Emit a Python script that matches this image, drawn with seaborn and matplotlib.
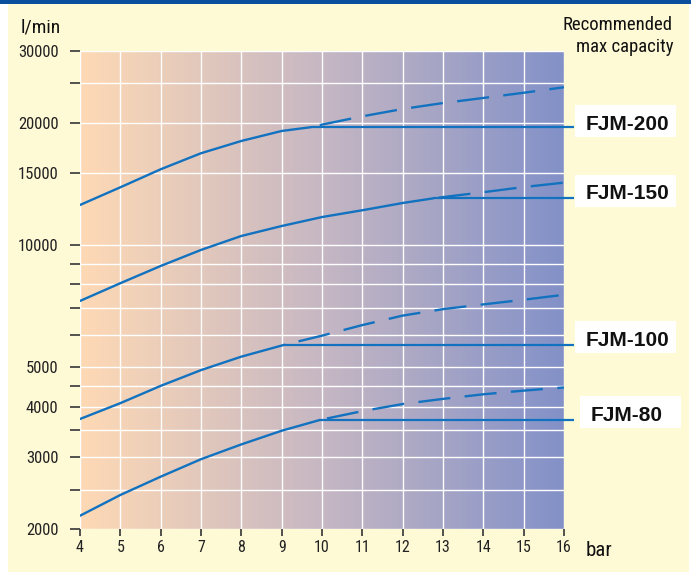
import numpy as np
import matplotlib
matplotlib.use("Agg")
import matplotlib.pyplot as plt
from matplotlib import font_manager
from matplotlib.patches import Rectangle
from matplotlib.colors import LinearSegmentedColormap
from matplotlib.ticker import NullLocator, FixedLocator, FixedFormatter
import seaborn as sns

# ---------------- data ----------------
models = ["FJM-200", "FJM-150", "FJM-100", "FJM-80"]

fjm200_solid_bar = [4, 5, 6, 7, 8, 9, 9.75]
fjm200_solid_lpm = [12540, 13860, 15350, 16810, 18020, 19070, 19500]
fjm200_dash_bar = [9.75, 10, 11, 12, 13, 14, 15, 16]
fjm200_dash_lpm = [19500, 19770, 20720, 21600, 22340, 22990, 23680, 24430]

fjm150_solid_bar = [4, 5, 6, 7, 8, 9, 10, 11, 12, 12.76]
fjm150_solid_lpm = [7280, 8050, 8875, 9720, 10520, 11130, 11710, 12170, 12680, 13020]
fjm150_dash_bar = [12.76, 13, 14, 15, 16]
fjm150_dash_lpm = [13020, 13110, 13480, 13880, 14230]

fjm100_solid_bar = [4, 5, 6, 7, 8, 9.07]
fjm100_solid_lpm = [3730, 4080, 4500, 4920, 5310, 5680]
fjm100_dash_bar = [9.07, 10, 11, 12, 13, 14, 15, 16]
fjm100_dash_lpm = [5680, 5980, 6350, 6700, 6950, 7140, 7330, 7540]

fjm80_solid_bar = [4, 5, 6, 7, 8, 9, 9.95]
fjm80_solid_lpm = [2156, 2425, 2690, 2970, 3230, 3490, 3710]
fjm80_dash_bar = [9.95, 11, 12, 13, 14, 15, 16]
fjm80_dash_lpm = [3710, 3900, 4060, 4180, 4290, 4380, 4460]

max_capacity_lpm = [19500, 13020, 5680, 3710]
max_capacity_bar = [9.75, 12.76, 9.07, 9.95]

x_ticks = list(range(4, 17))
y_ticks = [2000, 2500, 3000, 3500, 4000, 4500, 5000, 6000, 7000, 8000, 9000,
           10000, 15000, 20000, 25000, 30000]
y_labels = ["2000", "", "3000", "", "4000", "", "5000", "", "", "", "",
            "10000", "15000", "20000", "", "30000"]

# ---------------- style / layout ----------------
W, H = 691, 572
BLUE = "#1272bf"
BG = "#fffad6"
TOPBAR = "#0a4f9e"
LW = 1.7
DASH = (13.6, 6.1)
dash_offsets = [16.3, 17.5, 13.6, 16.7]
LINE_END_BAR = 16.24
label_boxes = [(575, 105, 676, 137), (575, 175, 676, 207),
               (575, 321, 676, 353), (580, 396, 681, 428)]
label_baselines = [130, 199, 345.7, 420.7]

# pick a condensed sans if one is installed
_fonts = font_manager.fontManager.ttflist
_names = {f.name for f in _fonts}
NARROW_FAMILY = None
NARROW_STRETCH = "normal"
for cand in ["Liberation Sans Narrow", "Roboto Condensed", "Open Sans Condensed",
             "Noto Sans Condensed", "DejaVu Sans Condensed", "Arial Narrow"]:
    if cand in _names:
        NARROW_FAMILY = cand
        break
if NARROW_FAMILY is None:
    for f in _fonts:
        if ("Condensed" in f.name or "Narrow" in f.name) and "Mono" not in f.name \
                and "Serif" not in f.name:
            NARROW_FAMILY = f.name
            break
if NARROW_FAMILY is None:
    for fam in ["DejaVu Sans", "Noto Sans", "Open Sans", "Roboto"]:
        if any(f.name == fam and str(f.stretch) in ("condensed", "semi-condensed", "extra-condensed")
               for f in _fonts):
            NARROW_FAMILY = fam
            NARROW_STRETCH = "condensed"
            break
if NARROW_FAMILY is None:
    NARROW_FAMILY = "Roboto"

NARROW = [NARROW_FAMILY, "DejaVu Sans"]
BOLD = ["Liberation Sans", "DejaVu Sans"]

sns.set_style("white")
plt.rcParams["font.family"] = NARROW
plt.rcParams["font.stretch"] = NARROW_STRETCH


def fx(p):
    return p / W


def fy(p):
    return 1 - p / H


fig = plt.figure(figsize=(W / 100, H / 100), dpi=100)
fig.patch.set_facecolor("white")
fig.patches.append(Rectangle((fx(8), 0), fx(689) - fx(8), fy(4), transform=fig.transFigure,
                             facecolor=BG, edgecolor="none", zorder=-10))
fig.patches.append(Rectangle((0, fy(3.5)), 1, 1 - fy(3.5), transform=fig.transFigure,
                             facecolor=TOPBAR, edgecolor="none", zorder=-10))

rect = [fx(80), fy(529), fx(564) - fx(80), fy(51) - fy(529)]

# gradient background axes
ax_bg = fig.add_axes(rect, zorder=0)
cmap = LinearSegmentedColormap.from_list("grad", ["#fed9b5", "#c6b7c3", "#8391c8"])
ax_bg.imshow(np.linspace(0, 1, 256)[None, :], aspect="auto", cmap=cmap,
             extent=[0, 1, 0, 1], interpolation="bilinear")
ax_bg.set_axis_off()

ax = fig.add_axes(rect, zorder=1)
ax.set_facecolor("none")
ax.set_yscale("log")
ax.set_xlim(4, 16)
ax.set_ylim(2000, 30000)

solids = [(fjm200_solid_bar, fjm200_solid_lpm), (fjm150_solid_bar, fjm150_solid_lpm),
          (fjm100_solid_bar, fjm100_solid_lpm), (fjm80_solid_bar, fjm80_solid_lpm)]
dashes = [(fjm200_dash_bar, fjm200_dash_lpm), (fjm150_dash_bar, fjm150_dash_lpm),
          (fjm100_dash_bar, fjm100_dash_lpm), (fjm80_dash_bar, fjm80_dash_lpm)]

for i in range(len(models)):
    sx, sy = solids[i]
    sns.lineplot(x=sx, y=sy, ax=ax, color=BLUE, linewidth=LW, estimator=None, sort=False)
    dx, dy = dashes[i]
    sns.lineplot(x=dx, y=dy, ax=ax, color=BLUE, linewidth=LW, estimator=None, sort=False,
                 linestyle=(dash_offsets[i], DASH))
    ax.hlines(max_capacity_lpm[i], max_capacity_bar[i], LINE_END_BAR, color=BLUE,
              linewidth=1.6, clip_on=False, zorder=3)

ax.set_xlim(4, 16)
ax.set_ylim(2000, 30000)

ax.xaxis.set_major_locator(FixedLocator(x_ticks))
ax.yaxis.set_major_locator(FixedLocator(y_ticks))
ax.yaxis.set_major_formatter(FixedFormatter(y_labels))
ax.yaxis.set_minor_locator(NullLocator())
ax.xaxis.set_minor_locator(NullLocator())

ax.grid(True, which="major", color="white", linewidth=1.0)
ax.set_axisbelow(True)
for s in ax.spines.values():
    s.set_visible(False)

ax.tick_params(axis="y", which="major", direction="out", length=7.5, width=1.3,
               color="#444444", pad=8, labelsize=12, labelcolor="#222222", left=True)
ax.tick_params(axis="x", which="major", direction="out", length=5, width=1.2,
               color="#333333", pad=3, labelsize=11.5, labelcolor="#222222", bottom=True)
ax.set_xlabel("")
ax.set_ylabel("")

# texts
fig.text(fx(21), fy(33), "l/min", fontsize=14, color="#111111", ha="left", va="baseline")
fig.text(fx(673), fy(30), "Recommended", fontsize=13.5, color="#111111", ha="right", va="baseline")
fig.text(fx(673), fy(52), "max capacity", fontsize=13.5, color="#111111", ha="right", va="baseline")
fig.text(fx(586), fy(556), "bar", fontsize=15, color="#111111", ha="left", va="baseline")

for i, m in enumerate(models):
    x0, y0, x1, y1 = label_boxes[i]
    fig.patches.append(Rectangle((fx(x0), fy(y1)), fx(x1) - fx(x0), fy(y0) - fy(y1),
                                 transform=fig.transFigure, facecolor="white",
                                 edgecolor="none", zorder=2))
    fig.text(fx(x0 + 11), fy(label_baselines[i]), m, fontsize=15, fontweight="bold",
             family=BOLD, stretch="normal", color="#111111", ha="left", va="baseline", zorder=3)

fig.savefig("out.png", dpi=100)
